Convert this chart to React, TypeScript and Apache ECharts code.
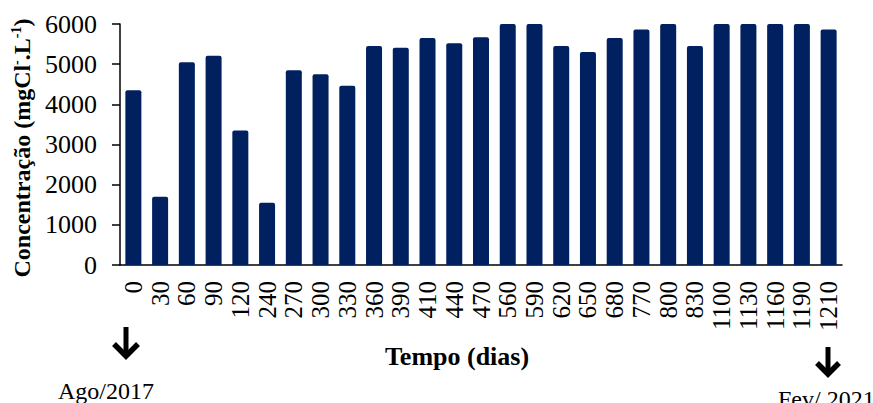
import React, { useEffect, useRef } from "react";
import * as echarts from "echarts";

const categories = ["0","30","60","90","120","240","270","300","330","360","390","410","440","470","560","590","620","650","680","770","800","830","1100","1130","1160","1190","1210"];
const concentration = [4350,1700,5050,5210,3350,1550,4850,4750,4460,5450,5410,5650,5520,5670,6300,6300,5450,5300,5650,5860,6300,5450,6300,6300,6300,6300,5860];
const yTicks = [0, 1000, 2000, 3000, 4000, 5000, 6000];

const FONT = "Liberation Serif";

export default function App() {
  const ref = useRef<HTMLDivElement>(null);
  useEffect(() => {
    if (!ref.current) return;
    const chart = echarts.init(ref.current, null, { renderer: "svg" });
    const arrow = (cx: number, top: number, bottom: number, hw: number) => ({
      type: "group",
      children: [
        { type: "line", shape: { x1: cx, y1: top, x2: cx, y2: bottom - 4 }, style: { stroke: "#000", lineWidth: 5 } },
        { type: "polyline", shape: { points: [[cx - hw, bottom - hw - 2], [cx, bottom - 2], [cx + hw, bottom - hw - 2]] }, style: { stroke: "#000", lineWidth: 5.5, fill: null, lineJoin: "miter" } },
      ],
    });
    const yBase = { type: "value", min: 0, max: 6000, interval: 1000, splitLine: { show: false } };
    chart.setOption({
      animation: false,
      textStyle: { fontFamily: FONT },
      grid: { left: 120, right: 31, top: 24, bottom: 138 },
      xAxis: {
        type: "category",
        data: categories,
        axisLine: { lineStyle: { color: "#000", width: 1.5 } },
        axisTick: { alignWithLabel: false, length: 8, lineStyle: { color: "#000", width: 1.5 } },
        axisLabel: { rotate: 90, interval: 0, fontFamily: FONT, fontSize: 25, color: "#000", margin: 16 },
      },
      yAxis: [
        {
          ...yBase,
          position: "left",
          axisLine: { show: true, lineStyle: { color: "#000", width: 1.5 } },
          axisTick: { show: true, length: 8, lineStyle: { color: "#000", width: 1.5 } },
          axisLabel: { show: false },
        },
        {
          ...yBase,
          position: "left",
          offset: 15,
          axisLine: { show: false },
          axisTick: { show: false },
          axisLabel: {
            fontFamily: FONT,
            fontSize: 26,
            color: "#000",
            margin: 8,
            formatter: (v: number) => (yTicks.includes(v) ? String(v) : ""),
          },
        },
      ],
      series: [
        {
          type: "bar",
          data: concentration,
          yAxisIndex: 0,
          barWidth: 16,
          clip: true,
          itemStyle: { color: "#00205F", borderRadius: [2, 2, 0, 0] },
        },
      ],
      graphic: [
        {
          type: "text",
          x: 22,
          y: 148,
          rotation: Math.PI / 2,
          style: {
            text: "{b|Concentração (mgCl}{s|-}{b|.L}{s|-1}{b|)}",
            align: "center",
            verticalAlign: "middle",
            fill: "#000",
            rich: {
              b: { fontFamily: FONT, fontSize: 24, fontWeight: "bold", fill: "#000", lineHeight: 26 },
              s: { fontFamily: FONT, fontSize: 14, fontWeight: "bold", fill: "#000", verticalAlign: "top", lineHeight: 26 },
            },
          },
        },
        {
          type: "text",
          x: 457,
          y: 356,
          style: { text: "Tempo (dias)", fontFamily: FONT, fontSize: 26, fontWeight: "bold", fill: "#000", align: "center", verticalAlign: "middle" },
        },
        arrow(126, 327, 358, 12),
        arrow(828, 347, 376, 11),
        {
          type: "text",
          x: 58,
          y: 391,
          style: { text: "Ago/2017", fontFamily: FONT, fontSize: 24, fill: "#000", align: "left", verticalAlign: "middle" },
        },
        {
          type: "text",
          x: 778,
          y: 399,
          style: { text: "Fev/ 2021", fontFamily: FONT, fontSize: 24, fill: "#000", align: "left", verticalAlign: "middle" },
        },
      ],
    });
    return () => chart.dispose();
  }, []);
  return <div ref={ref} style={{ position: "absolute", left: 0, top: 0, width: 873, height: 403 }} />;
}
